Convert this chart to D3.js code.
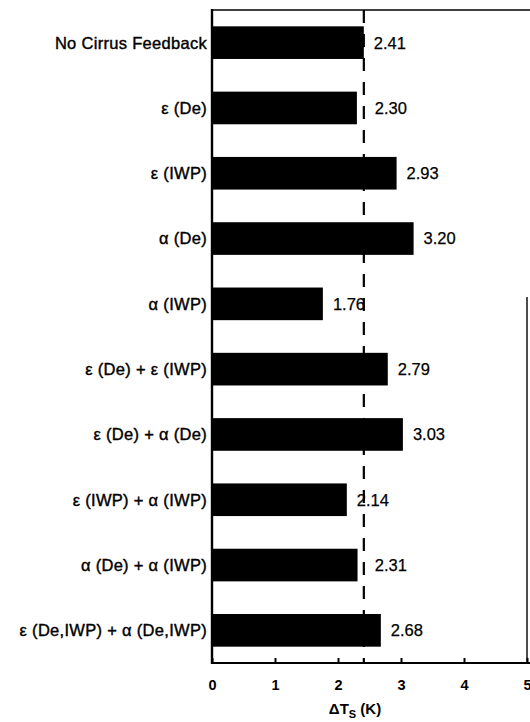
<!DOCTYPE html>
<html>
<head>
<meta charset="utf-8">
<script src="https://cdn.jsdelivr.net/npm/d3@7"></script>
<style>
  html, body { margin: 0; padding: 0; background: #fff; }
  svg { display: block; }
  text { font-family: "Liberation Sans", Arial, Helvetica, sans-serif; fill: #000; }
</style>
</head>
<body>
<svg id="chart" width="530" height="722"></svg>
<script>
// Surface warming for each cirrus feedback experiment
const experiments = [
  "No Cirrus Feedback",
  "ε (De)",
  "ε (IWP)",
  "α (De)",
  "α (IWP)",
  "ε (De) + ε (IWP)",
  "ε (De) + α (De)",
  "ε (IWP) + α (IWP)",
  "α (De) + α (IWP)",
  "ε (De,IWP) + α (De,IWP)"
];
const deltaTs = [2.41, 2.30, 2.93, 3.20, 1.76, 2.79, 3.03, 2.14, 2.31, 2.68];
const referenceValue = 2.41;           // control run, drawn as the dashed line
const xTicks = [0, 1, 2, 3, 4, 5];

const svg = d3.select("#chart");
const plotLeft = 212, plotRight = 527, plotTop = 10, plotBottom = 663;

const x = d3.scaleLinear().domain([0, 5]).range([plotLeft, plotRight]);
const y = d3.scaleBand().domain(experiments).range([plotTop, plotBottom]).paddingInner(0.5).paddingOuter(0.25);

// dashed reference line (behind the bars)
svg.append("line")
  .attr("x1", x(referenceValue)).attr("x2", x(referenceValue))
  .attr("y1", plotTop).attr("y2", plotBottom)
  .attr("stroke", "#000").attr("stroke-width", 2.2)
  .attr("stroke-dasharray", "13,11");

// bars
svg.append("g").selectAll("rect")
  .data(experiments)
  .join("rect")
  .attr("x", x(0))
  .attr("y", d => y(d))
  .attr("width", (d, i) => x(deltaTs[i]) - x(0))
  .attr("height", y.bandwidth())
  .attr("fill", "#000");

// value labels
svg.append("g").selectAll("text")
  .data(experiments)
  .join("text")
  .attr("x", (d, i) => {
    let px = x(deltaTs[i]) + 10;
    const ref = x(referenceValue);
    if (px > ref - 4 && px < ref + 8) px = ref + 11;
    return px;
  })
  .attr("y", d => y(d) + y.bandwidth() / 2)
  .attr("dy", "0.36em")
  .attr("font-size", 16.5)
  .attr("stroke", "#000").attr("stroke-width", 0.25)
  .text((d, i) => deltaTs[i].toFixed(2));

// category labels
svg.append("g").selectAll("text")
  .data(experiments)
  .join("text")
  .attr("x", plotLeft - 5)
  .attr("y", d => y(d) + y.bandwidth() / 2)
  .attr("dy", "0.36em")
  .attr("text-anchor", "end")
  .attr("font-size", 16.5)
  .attr("letter-spacing", 0.3)
  .attr("stroke", "#000").attr("stroke-width", 0.4)
  .text(d => d);

// bottom axis with inward ticks
const xAxis = d3.axisBottom(x).tickValues(xTicks).tickFormat(d3.format("d"))
  .tickSizeInner(-5).tickSizeOuter(0).tickPadding(17);
const gx = svg.append("g").attr("transform", `translate(0,${plotBottom})`).call(xAxis);
gx.select(".domain").remove();
gx.selectAll(".tick line").attr("stroke", "#000").attr("stroke-width", 2);
gx.selectAll(".tick text")
  .attr("font-size", 14.5).attr("font-weight", "bold")
  .attr("font-family", "\"Liberation Sans\", Arial, sans-serif").attr("fill", "#000");

// frame
const frame = svg.append("g").attr("stroke", "#000").attr("fill", "none");
frame.append("line").attr("x1", plotLeft).attr("x2", 530).attr("y1", plotTop).attr("y2", plotTop).attr("stroke-width", 1.6);
frame.append("line").attr("x1", plotLeft).attr("x2", plotLeft).attr("y1", plotTop - 1).attr("y2", plotBottom + 1).attr("stroke-width", 2.4);
frame.append("line").attr("x1", plotLeft).attr("x2", 530).attr("y1", plotBottom).attr("y2", plotBottom).attr("stroke-width", 2.2);
frame.append("line").attr("x1", x(5)).attr("x2", x(5)).attr("y1", 297).attr("y2", plotBottom).attr("stroke-width", 1.4);

// axis title
const title = svg.append("text")
  .attr("x", 355).attr("y", 714)
  .attr("text-anchor", "middle")
  .attr("font-size", 15).attr("font-weight", "bold");
title.append("tspan").text("ΔT");
title.append("tspan").attr("font-size", 11).attr("dy", 4).text("S");
title.append("tspan").attr("dy", -4).text(" (K)");
</script>
</body>
</html>
